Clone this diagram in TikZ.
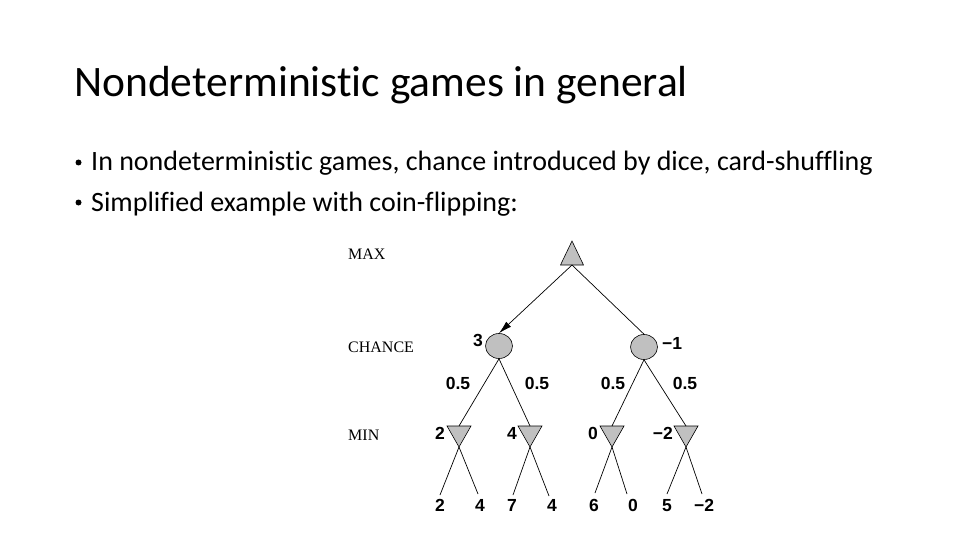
\documentclass[tikz,border=0pt]{standalone}
\usepackage{fontspec}
\setmainfont[Ligatures=NoCommon]{Carlito}
\newfontfamily\treeserif{Liberation Serif}
\newfontfamily\treesans{Liberation Sans}
\usetikzlibrary{shapes.geometric,arrows.meta}
\definecolor{nodegray}{HTML}{C0C0C0}
\tikzset{
  title/.style={anchor=base west, inner sep=0pt, font=\fontsize{43.5}{48}\selectfont},
  bullettext/.style={anchor=base west, inner sep=0pt, font=\fontsize{28}{32}\selectfont},
  bulletdot/.style={circle, fill=black, minimum size=6pt, inner sep=0pt},
  levellabel/.style={anchor=west, inner sep=0pt, font=\treeserif\fontsize{16}{18}\selectfont},
  val/.style={inner sep=0pt, anchor=base, font=\treesans\bfseries\fontsize{17.5}{19}\selectfont},
  chance/.style={ellipse, draw=black, fill=nodegray, line width=0.6pt, minimum width=27pt, minimum height=25pt, inner sep=0pt},
  tri/.style={draw=black, fill=nodegray, line width=0.6pt, line join=miter},
  edge/.style={draw=black, line width=0.7pt},
}
\begin{document}
\begin{tikzpicture}[x=1pt,y=-1pt]
\useasboundingbox (0,0) rectangle (960,540);
\node[title] (ttl) at (74,97) {Nondeterministic games in general};
\node[bulletdot] (d1) at (78.5,162.5) {};
\node[bullettext] (b1) at (91,171) {In nondeterministic games, chance introduced by dice, card-shuffling};
\node[bulletdot] (d2) at (78.5,202.5) {};
\node[bullettext] (b2) at (91,211) {Simplified example with coin-flipping:};

% level labels
\node[levellabel] (lmax) at (348,254) {MAX};
\node[levellabel] (lchance) at (348,347) {CHANCE};
\node[levellabel] (lmin) at (348,435) {MIN};

% MAX node
\coordinate (maxtop) at (572,241);
\coordinate (maxbot) at (572,265);
\draw[tri] (560.5,265) -- (maxtop) -- (583.5,265) -- cycle;

% chance nodes
\node[chance] (c1) at (499,346) {};
\node[chance] (c2) at (644,347) {};
\node[val, anchor=base east] (v3) at (483,346) {3};
\node[val, anchor=base west] (vm1) at (662,349) {−1};

\draw[edge, -{Latex[length=13pt,width=7pt]}] (maxbot) -- (c1.north);
\draw[edge] (maxbot) -- (c2.north);

% MIN nodes: base centres and apexes
\foreach \n/\x in {m1/459, m2/530, m3/612, m4/686}{
  \coordinate (\n top) at (\x,426);
  \coordinate (\n bot) at (\x,447);
  \draw[tri] (\x-12,426) -- (\x+12,426) -- (\n bot) -- cycle;
}

\draw[edge] (c1.south) -- (m1top);
\draw[edge] (c1.south) -- (m2top);
\draw[edge] (c2.south) -- (m3top);
\draw[edge] (c2.south) -- (m4top);

% probabilities
\node[val] (p1) at (458,389) {0.5};
\node[val] (p2) at (537,389) {0.5};
\node[val] (p3) at (613,389) {0.5};
\node[val] (p4) at (685,389) {0.5};

% MIN values
\node[val, anchor=base east] (mv1) at (445,439) {2};
\node[val, anchor=base east] (mv2) at (517,439) {4};
\node[val, anchor=base east] (mv3) at (598,439) {0};
\node[val, anchor=base east] (mv4) at (673,439) {−2};

% leaves
\node[val] (l1) at (440,511) {2};
\node[val] (l2) at (480,511) {4};
\node[val] (l3) at (512,511) {7};
\node[val] (l4) at (552,511) {4};
\node[val] (l5) at (594,511) {6};
\node[val] (l6) at (633,511) {0};
\node[val] (l7) at (667,511) {5};
\node[val] (l8) at (704,511) {−2};

\coordinate (e1) at (440,495);
\coordinate (e2) at (478,494);
\coordinate (e3) at (513,495);
\coordinate (e4) at (549,496);
\coordinate (e5) at (595,493);
\coordinate (e6) at (627,494);
\coordinate (e7) at (667,494);
\coordinate (e8) at (702,494);

\draw[edge] (m1bot) -- (e1);
\draw[edge] (m1bot) -- (e2);
\draw[edge] (m2bot) -- (e3);
\draw[edge] (m2bot) -- (e4);
\draw[edge] (m3bot) -- (e5);
\draw[edge] (m3bot) -- (e6);
\draw[edge] (m4bot) -- (e7);
\draw[edge] (m4bot) -- (e8);
\end{tikzpicture}
\end{document}
